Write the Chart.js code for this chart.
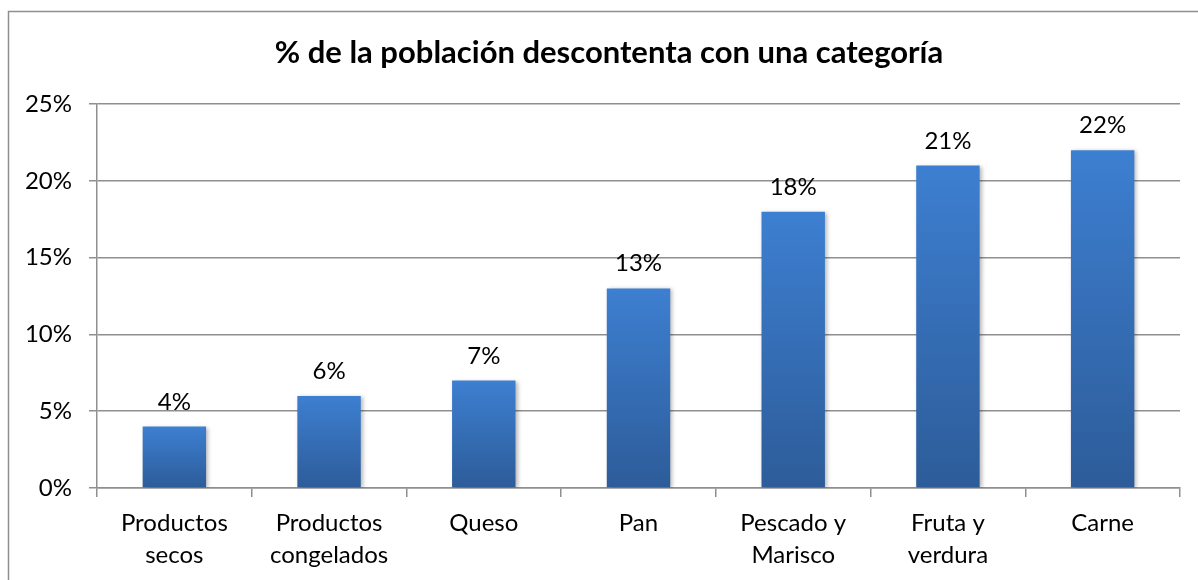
<!DOCTYPE html>
<html>
<head>
<meta charset="utf-8">
<script src="https://cdn.jsdelivr.net/npm/chart.js@4"></script>
<style>
html,body{margin:0;padding:0;background:#fff;}
#wrap{width:1198px;height:580px;position:relative;}
</style>
</head>
<body>
<div id="wrap"><canvas id="c" width="1198" height="580"></canvas></div>
<script>
const categories = [["Productos","secos"],["Productos","congelados"],["Queso"],["Pan"],["Pescado y","Marisco"],["Fruta y","verdura"],["Carne"]];
const values = [4, 6, 7, 13, 18, 21, 22];
const yTicks = [0, 5, 10, 15, 20, 25];
const titleText = "% de la población descontenta con una categoría";

const FONT = "Lato, 'Open Sans', sans-serif";
const LINE = '#8f8f8f';

const framePlugin = {
  id: 'frame',
  beforeDraw(chart) {
    const ctx = chart.ctx;
    ctx.save();
    ctx.fillStyle = '#fff';
    ctx.fillRect(0, 0, chart.width, chart.height);
    ctx.strokeStyle = LINE;
    ctx.lineWidth = 1.5;
    ctx.strokeRect(8.5, 11.5, chart.width + 10, chart.height + 10);
    ctx.restore();
  }
};

// centre the title inside the outer frame rather than the padded layout box
const titleShift = {
  id: 'titleShift',
  afterLayout(chart) {
    if (chart.titleBlock) {
      chart.titleBlock.left = 20;
      chart.titleBlock.right = chart.width;
    }
  }
};

const shadowPlugin = {
  id: 'shadow',
  beforeDatasetDraw(chart) {
    const ctx = chart.ctx;
    ctx.save();
    ctx.shadowColor = 'rgba(0,0,0,0.28)';
    ctx.shadowBlur = 4;
    ctx.shadowOffsetX = 2;
    ctx.shadowOffsetY = 1;
  },
  afterDatasetDraw(chart) {
    chart.ctx.restore();
  }
};

const labelPlugin = {
  id: 'barLabels',
  afterDatasetsDraw(chart) {
    const ctx = chart.ctx;
    const meta = chart.getDatasetMeta(0);
    ctx.save();
    ctx.font = "24px " + FONT;
    ctx.fillStyle = '#000';
    ctx.textAlign = 'center';
    ctx.textBaseline = 'alphabetic';
    meta.data.forEach((bar, i) => {
      ctx.fillText(values[i] + '%', bar.x, bar.y - 17);
    });
    ctx.restore();
  }
};

function barGradient(context) {
  const chart = context.chart;
  if (!chart.chartArea || context.dataIndex === undefined) return '#3a78c8';
  const ys = chart.scales.y;
  const top = ys.getPixelForValue(values[context.dataIndex]);
  const bottom = ys.getPixelForValue(0);
  if (!isFinite(top) || !isFinite(bottom) || top === bottom) return '#3a78c8';
  const g = chart.ctx.createLinearGradient(0, top, 0, bottom);
  g.addColorStop(0, '#3d7fd1');
  g.addColorStop(1, '#2d5c99');
  return g;
}

new Chart(document.getElementById('c'), {
  type: 'bar',
  data: {
    labels: categories,
    datasets: [{
      data: values,
      backgroundColor: barGradient,
      borderWidth: 0,
      barPercentage: 0.41,
      categoryPercentage: 1
    }]
  },
  options: {
    responsive: false,
    animation: false,
    devicePixelRatio: 1,
    layout: { padding: { left: 0, right: 18, top: 0, bottom: 0 } },
    plugins: {
      legend: { display: false },
      tooltip: { enabled: false },
      title: {
        display: true,
        text: titleText,
        color: '#000',
        font: { family: FONT, size: 31, weight: 'bold', lineHeight: 1.2 },
        padding: { top: 34, bottom: 33 }
      }
    },
    scales: {
      x: {
        offset: true,
        grid: {
          display: true,
          offset: true,
          drawOnChartArea: false,
          drawTicks: true,
          tickLength: 9,
          color: LINE,
          lineWidth: 1.5
        },
        border: { display: true, color: LINE, width: 1.5 },
        ticks: {
          color: '#000',
          font: { family: FONT, size: 24, lineHeight: 1.333 },
          padding: 10,
          maxRotation: 0,
          autoSkip: false
        },
        afterFit(scale) { scale.height = 92; }
      },
      y: {
        min: 0,
        max: 25,
        afterBuildTicks(scale) { scale.ticks = yTicks.map(v => ({ value: v })); },
        grid: {
          display: true,
          drawOnChartArea: true,
          drawTicks: true,
          tickLength: 8,
          color: LINE,
          lineWidth: 1.5
        },
        border: { display: true, color: LINE, width: 1.5 },
        ticks: {
          color: '#000',
          font: { family: FONT, size: 24 },
          padding: 17,
          callback: v => v + '%'
        },
        afterFit(scale) { scale.width = 97; }
      }
    }
  },
  plugins: [framePlugin, titleShift, shadowPlugin, labelPlugin]
});
</script>
</body>
</html>
